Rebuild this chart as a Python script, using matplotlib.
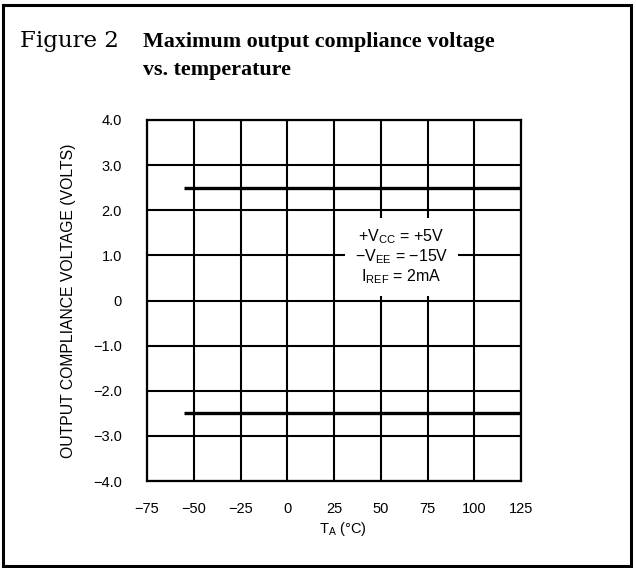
import matplotlib
matplotlib.use("Agg")
import matplotlib.pyplot as plt
from matplotlib.patches import Rectangle

plt.rcParams['font.family'] = ['Liberation Sans', 'DejaVu Sans']
plt.rcParams['mathtext.fontset'] = 'custom'
plt.rcParams['mathtext.rm'] = 'Liberation Sans'
plt.rcParams['mathtext.it'] = 'Liberation Sans'
plt.rcParams['mathtext.bf'] = 'Liberation Sans:bold'

# ---- data ----
temps = [-55, 125]
v_pos = [2.5, 2.5]
v_neg = [-2.5, -2.5]
x_ticks = [-75, -50, -25, 0, 25, 50, 75, 100, 125]
x_tick_labels = ["\u221275", "\u221250", "\u221225", "0", "25", "50", "75", "100", "125"]
y_ticks = [4, 3, 2, 1, 0, -1, -2, -3, -4]
y_tick_labels = ["4.0", "3.0", "2.0", "1.0", "0", "\u22121.0", "\u22122.0", "\u22123.0", "\u22124.0"]

W, H = 636, 568
fig = plt.figure(figsize=(W / 100, H / 100), dpi=100)

def fx(px):
    return px / W

def fy(py):
    return 1 - py / H

# outer frame
fig.patches.append(Rectangle((fx(3), fy(566)), fx(631) - fx(3), fy(5) - fy(566),
                             transform=fig.transFigure, fill=False, lw=2.2, ec='black'))

# title
fig.text(fx(20), fy(47), "Figure 2", fontsize=16.5, family='DejaVu Serif',
         fontweight='light', va='baseline', ha='left')
fig.text(fx(143), fy(47), "Maximum output compliance voltage", fontsize=15.8,
         family='Liberation Serif', fontweight='bold', va='baseline', ha='left')
fig.text(fx(143), fy(75), "vs. temperature", fontsize=15.8,
         family='Liberation Serif', fontweight='bold', va='baseline', ha='left')

left, right, top, bottom = 147, 521, 120, 481
ax = fig.add_axes([fx(left), fy(bottom), fx(right) - fx(left), fy(top) - fy(bottom)])
ax.set_xlim(-75, 125)
ax.set_ylim(-4, 4)
ax.set_xticks(x_ticks)
ax.set_xticklabels(x_tick_labels)
ax.set_yticks(y_ticks)
ax.set_yticklabels(y_tick_labels)
ax.tick_params(length=0, labelsize=10.5, pad=0)
ax.tick_params(axis='x', pad=15)
ax.tick_params(axis='y', pad=18)
ax.grid(True, color='black', lw=1.5)
for s in ax.spines.values():
    s.set_linewidth(1.6)

ax.plot(temps, v_pos, color='black', lw=2.4, solid_capstyle='butt', zorder=3)
ax.plot(temps, v_neg, color='black', lw=2.4, solid_capstyle='butt', zorder=3)

ax.set_xlabel("T$_\\mathrm{A}$ (\u00b0C)", fontsize=10.5)
ax.xaxis.set_label_coords((343 - left) / (right - left), -(520 - bottom) / (bottom - top))
ax.set_ylabel("OUTPUT COMPLIANCE VOLTAGE (VOLTS)", fontsize=11.3)
ax.yaxis.set_label_coords(-(left - 76) / (right - left), 0.5)

ax.text(61, 0.97,
        "+V$_\\mathrm{CC}$ = +5V\n\u2212V$_\\mathrm{EE}$ = \u221215V\nI$_\\mathrm{REF}$ = 2mA",
        fontsize=11.5, ha='center', va='center', linespacing=1.08, zorder=4,
        bbox=dict(facecolor='white', edgecolor='none', pad=7))

fig.savefig("out.png", dpi=100)
